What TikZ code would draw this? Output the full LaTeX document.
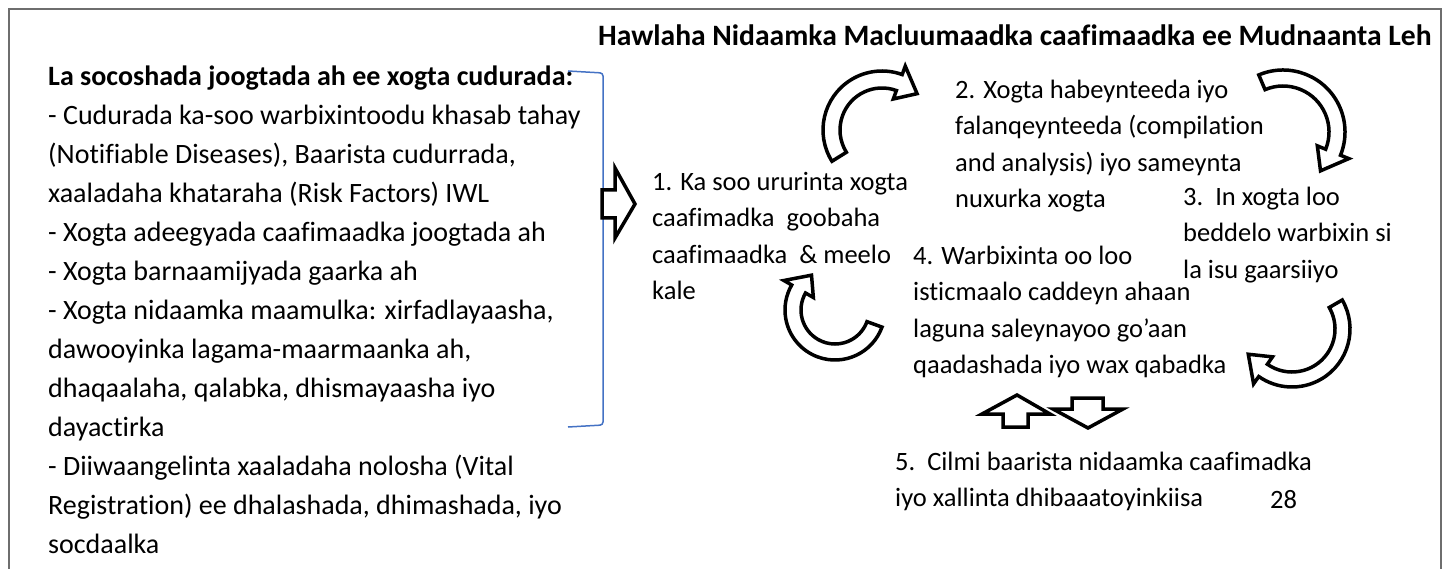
\documentclass[tikz,border=0pt]{standalone}
\usepackage{fontspec}
\setmainfont{Carlito}[Ligatures=NoCommon]
\definecolor{bracketblue}{RGB}{68,114,196}
\definecolor{framegray}{RGB}{110,110,110}

% curved block arrow: centre, inner r, outer r, start angle, end angle, tip angle
\newcommand{\bentarrow}[6]{%
  \begin{scope}[shift={#1}]
    \pgfmathsetmacro{\rmid}{(#2+#3)/2}
    \pgfmathsetmacro{\rin}{#2-9}
    \pgfmathsetmacro{\rout}{#3+9}
    \draw[blockarrow] (#4:#3pt) arc[start angle=#4, end angle=#5, radius=#3pt]
      -- (#5:\rout pt) -- (#6:\rmid pt) -- (#5:\rin pt)
      -- (#5:#2pt) arc[start angle=#5, end angle=#4, radius=#2pt] -- cycle;
  \end{scope}}

\begin{document}
\begin{tikzpicture}[x=1pt, y=1pt,
    % nodes sit on the baseline of their last line
    body/.style={anchor=base west, align=left, inner sep=0pt,
      font=\fontsize{26.5}{36.5}\selectfont},
    listtext/.style={body, font=\fontsize{28}{39}\selectfont},
    blockarrow/.style={draw=black, fill=white, line width=3.5pt, line join=miter},
    bracket/.style={draw=bracketblue, line width=1.5pt, rounded corners=3pt}]
  \useasboundingbox (0,0) rectangle (1447,-569);
  % frame
  \draw[framegray, line width=2pt] (9,-580) -- (9,-9) -- (1441,-9) -- (1441,-580);

  \node[body, font=\bfseries\fontsize{29.6}{32}\selectfont] (title) at (598,-46)
    {Hawlaha Nidaamka Macluumaadka caafimaadka ee Mudnaanta Leh};

  \node[listtext] (sources) at (48,-436) {\textbf{La socoshada joogtada ah ee xogta cudurada:}\\
    - Cudurada ka-soo warbixintoodu khasab tahay\\
    (Notifiable Diseases), Baarista cudurrada,\\
    xaaladaha khataraha (Risk Factors) IWL\\
    - Xogta adeegyada caafimaadka joogtada ah\\
    - Xogta barnaamijyada gaarka ah\\
    - Xogta nidaamka maamulka: xirfadlayaasha,\\
    dawooyinka lagama-maarmaanka ah,\\
    dhaqaalaha, qalabka, dhismayaasha iyo\\
    dayactirka};
  \node[listtext] (registry) at (48,-553) {- Diiwaangelinta xaaladaha nolosha (Vital\\
    Registration) ee dhalashada, dhimashada, iyo\\
    socdaalka};

  \node[body] (step1) at (652,-299.5) {1. Ka soo ururinta xogta\\
    caafimadka\ \ goobaha\\ caafimaadka\ \ \& meelo\\ kale};
  \node[body] (step2) at (955,-208) {2. Xogta habeynteeda iyo\\
    falanqeynteeda (compilation\\ and analysis) iyo sameynta\\ nuxurka xogta};
  \node[body] (step3) at (1183,-278) {3.\ \ In xogta loo\\
    beddelo warbixin si\\ la isu gaarsiiyo};
  \node[body] (step4) at (913,-373.5) {4. Warbixinta oo loo\\
    isticmaalo caddeyn ahaan\\ laguna saleynayoo go’aan\\ qaadashada iyo wax qabadka};
  \node[body] (step5) at (895,-506.5) {5.\ \ Cilmi baarista nidaamka caafimadka\\
    iyo xallinta dhibaaatoyinkiisa};
  \node[body] (page) at (1270,-508) {28};

  % bracket round the sources
  \draw[bracket] (568,-71) -- (603,-73) -- (603,-425) -- (568,-427);

  % arrow into the cycle
  \draw[blockarrow] (602,-190) -- (615,-190) -- (615,-168) -- (635,-204)
    -- (615,-238) -- (615,-218) -- (602,-218) -- cycle;

  % the cycle
  \bentarrow{(882,-130)}{42}{59}{212}{70}{46}
  \bentarrow{(1283,-132)}{46}{62}{113}{-22}{-46}
  \bentarrow{(1292,-329)}{43}{58}{30}{-125}{-150}
  \bentarrow{(835,-310)}{34}{50}{-20}{-210}{-236}

  % up and down
  \draw[blockarrow] (1003,-427) -- (1003,-414) -- (982,-414) -- (1017,-395)
    -- (1050,-414) -- (1028,-414) -- (1028,-427) -- cycle;
  \draw[blockarrow] (1072,-398) -- (1103,-398) -- (1103,-409) -- (1123,-409)
    -- (1088,-428) -- (1053,-409) -- (1072,-409) -- cycle;
\end{tikzpicture}
\end{document}
